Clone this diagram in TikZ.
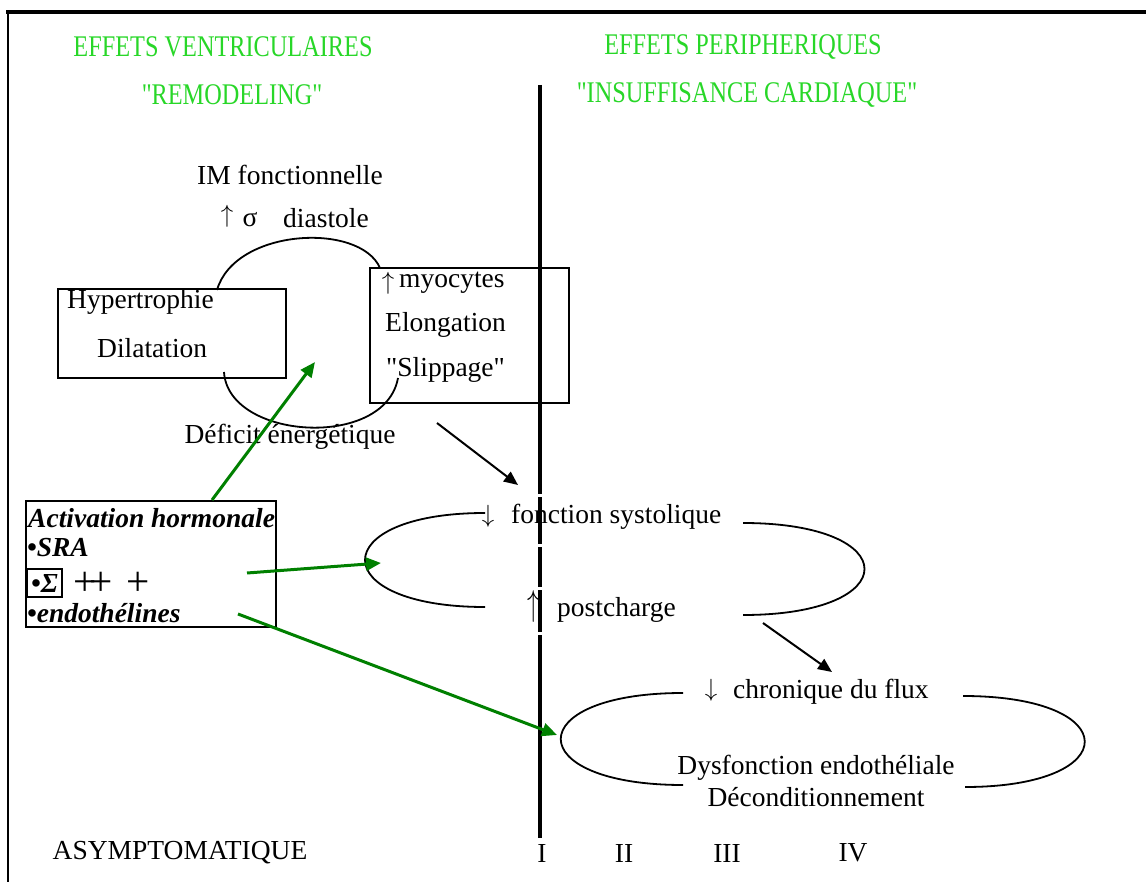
\documentclass[tikz,border=0pt]{standalone}
\usepackage{fontspec}
\setmainfont{Liberation Serif}
\newfontfamily\condfont[FakeStretch=0.81]{Liberation Serif}
\usetikzlibrary{arrows.meta}
\definecolor{hdrgreen}{RGB}{40,215,40}
\definecolor{arrgreen}{RGB}{0,128,0}
\newcommand{\bigplus}{\scalebox{1.5}{+}}
\begin{document}
\begin{tikzpicture}[x=1pt,y=-1pt,
  txt/.style={inner sep=0pt, font=\fontsize{27.5}{33}\selectfont},
  hdr/.style={inner sep=0pt, text=hdrgreen, font=\condfont\fontsize{30}{33}\selectfont},
  bi/.style={inner sep=0pt, font=\fontsize{27.5}{33}\selectfont\bfseries\itshape},
  boxline/.style={draw, line width=2pt, inner sep=0pt},
  loopline/.style={line width=1.8pt},
  blackarrow/.style={line width=2pt, -{Triangle[length=14pt,width=12pt]}},
  greenarrow/.style={draw=arrgreen, fill=arrgreen, line width=3pt, -{Triangle[length=15pt,width=13pt]}},
]
\useasboundingbox (0,0) rectangle (1146,882);
\fill[white] (0,0) rectangle (1146,882);
% frame
\draw[line width=3.5pt] (6,12) -- (1146,12);
\draw[line width=2.5pt] (8,11) -- (8,882);

% headers
\node[hdr] (h1) at (223,47) {EFFETS VENTRICULAIRES};
\node[hdr] (h2) at (232,95) {"REMODELING"};
\node[hdr] (h3) at (743,47) {EFFETS PERIPHERIQUES};
\node[hdr] (h4) at (747,95) {"INSUFFISANCE CARDIAQUE"};

% boxes
\node[boxline, minimum width=228pt, minimum height=89pt] (hd) at (172,333.5) {};
\node[boxline, minimum width=199pt, minimum height=135pt] (myob) at (469.5,335.5) {};
\node[boxline, minimum width=250pt, minimum height=126pt] (act) at (151,564) {};

% upper-left texts
\node[txt] (imf) at (290,175) {IM fonctionnelle};
\node[txt] (siga) at (227,216) {$\uparrow$};
\node[txt] (sig) at (250,220) {σ};
\node[txt, anchor=west] (dia) at (283,218) {diastole};
\node[txt, anchor=west] (hyp) at (67,302) {Hypertrophie};
\node[txt, anchor=west] (dil) at (97,348) {Dilatation};
\node[txt] (myoa) at (388,283) {$\uparrow$};
\node[txt, anchor=west] (myo) at (399,283) {myocytes};
\node[txt, anchor=west] (elo) at (385,325) {Elongation};
\node[txt, anchor=west] (sli) at (386,370) {\textquotedbl Slippage\textquotedbl};
\node[txt] (def) at (290,437) {Déficit énergétique};

% activation box texts
\node[bi, anchor=west] (ah) at (28,518) {Activation hormonale};
\node[bi, anchor=west] (sra) at (27,548) {•SRA};
\node[bi, draw, line width=2pt, minimum width=35pt, minimum height=28pt] (sgm) at (44.5,583) {•Σ};
\node[txt, anchor=west] (plus) at (73,584) {\bigplus\kern-7pt\bigplus\hspace{14pt}\bigplus};
\node[bi, anchor=west] (endo) at (27,613) {•endothélines};

% right side texts
\node[txt] (fsa) at (488,516) {$\downarrow$};
\node[txt, anchor=west] (fs) at (511,517) {fonction systolique};
\node[txt] (pca) at (534,606) {\scalebox{1}[1.45]{$\uparrow$}};
\node[txt, anchor=west] (pc) at (557,610) {postcharge};
\node[txt] (cfa) at (711,690) {$\downarrow$};
\node[txt, anchor=west] (cf) at (733,692) {chronique du flux};
\node[txt] (dys) at (816,768) {Dysfonction endothéliale};
\node[txt] (dec) at (816,797) {Déconditionnement};

% bottom labels
\node[txt] (asy) at (180,853) {ASYMPTOMATIQUE};
\node[txt] (c1) at (542,853) {I};
\node[txt] (c2) at (624,853) {II};
\node[txt] (c3) at (727,853) {III};
\node[txt] (c4) at (853,853) {IV};

% loops
\draw[loopline] (217,290) .. controls (235,228) and (360,222) .. (380,268);
\draw[loopline] (224,372) .. controls (228,440) and (385,450) .. (398,378);
\draw[loopline] (485,513) .. controls (325,513) and (325,607) .. (485,607);
\draw[loopline] (743,523) .. controls (905,523) and (905,615) .. (743,615);
\draw[loopline] (683,693) .. controls (520,693) and (520,785) .. (683,785);
\draw[loopline] (963,696) .. controls (1125,696) and (1125,787) .. (965,787);

% vertical divider
\coordinate (vtop) at (540,85);
\coordinate (vbot) at (540,838);
\draw[line width=3.5pt] (vtop) -- (vbot);
\foreach \gy in {495,545,588,633} \fill[white] (537,\gy-1.5) rectangle (543,\gy+1.5);

% arrows
\coordinate (g1s) at (212,500);
\coordinate (g1e) at (315,362);
\coordinate (g2s) at (247,573);
\coordinate (g2e) at (381,563);
\coordinate (g3s) at (238,614);
\coordinate (g3e) at (557,735);
\coordinate (b1s) at (437,423);
\coordinate (b1e) at (518,485);
\coordinate (b2s) at (763,623);
\coordinate (b2e) at (832,672);
\draw[greenarrow] (g1s) -- (g1e);
\draw[greenarrow] (g2s) -- (g2e);
\draw[greenarrow] (g3s) -- (g3e);
\draw[blackarrow] (b1s) -- (b1e);
\draw[blackarrow] (b2s) -- (b2e);
\end{tikzpicture}
\end{document}
